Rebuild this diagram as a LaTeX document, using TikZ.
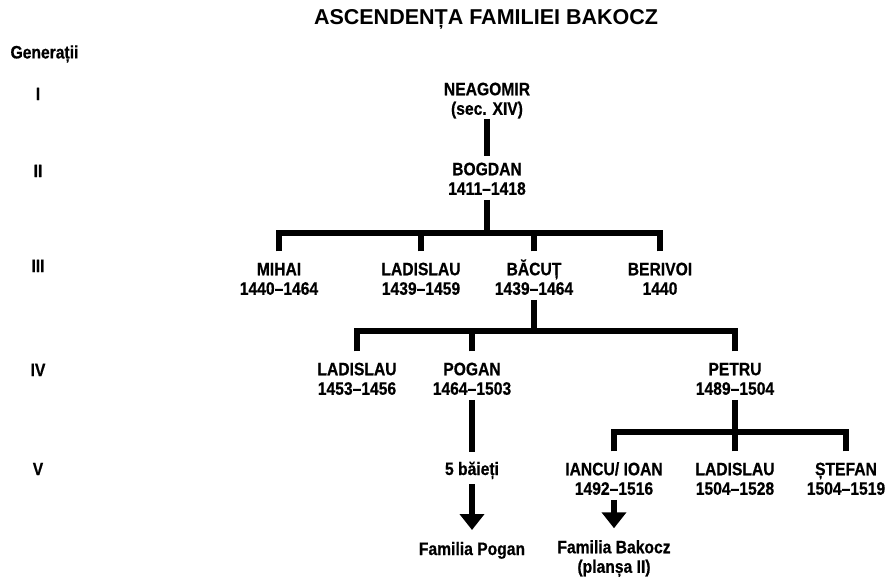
\documentclass[tikz,border=0pt]{standalone}
\usepackage{fontspec}
\setmainfont{Liberation Sans}
\newfontfamily\narrowsans[FakeStretch=0.87,BoldFeatures={FakeBold=0.6}]{Liberation Sans}
\usetikzlibrary{arrows.meta,positioning}

\begin{document}
\begin{tikzpicture}
  [x=1pt,y=-1pt,on grid,
   title/.style={font=\fontsize{21.5}{24}\selectfont\bfseries},
   gen/.style={font=\narrowsans\fontsize{18}{19.5}\selectfont\bfseries},
   person/.style={font=\narrowsans\fontsize{18}{19.5}\selectfont\bfseries,
                  align=center,inner sep=0pt,outer sep=1pt,
                  text height=37.5pt,text depth=4pt},
   single/.style={person,text height=18pt},
   link/.style={line width=5.5pt},
   drop/.style={link,shorten <=5pt},
   descent/.style={link,-{Triangle[width=24pt,length=16pt]},shorten >=6pt}]

  \useasboundingbox (0,0) rectangle (887,578);

  \node[title] (title) at (486,19) {ASCENDENȚA FAMILIEI BAKOCZ};
  \node[gen,anchor=west] (generatii) at (7,54) {Generații};
  \node[gen] (genI)   at (38,94)  {I};
  \node[gen] (genII)  at (38,171) {II};
  \node[gen] (genIII) at (38,266) {III};
  \node[gen] (genIV)  at (38,370) {IV};
  \node[gen] (genV)   at (38,469) {V};

  \node[person] (neagomir)    at (487,98)                         {NEAGOMIR\\(sec. XIV)};
  \node[person] (bogdan)      [below=80pt of neagomir]            {BOGDAN\\1411–1418};

  \node[person] (mihai)       [below left=100pt and 208pt of bogdan] {MIHAI\\1440–1464};
  \node[person] (ladislauIII) [right=142pt of mihai]              {LADISLAU\\1439–1459};
  \node[person] (bacut)       [right=113pt of ladislauIII]        {BĂCUȚ\\1439–1464};
  \node[person] (berivoi)     [right=126pt of bacut]              {BERIVOI\\1440};

  \node[person] (ladislauIV)  [below left=100pt and 177pt of bacut] {LADISLAU\\1453–1456};
  \node[person] (pogan)       [right=115pt of ladislauIV]         {POGAN\\1464–1503};
  \node[person] (petru)       [right=263pt of pogan]              {PETRU\\1489–1504};

  \node[single] (baieti)      [below=90pt of pogan]               {5 băieți};
  \node[single] (famPogan)    [below=80pt of baieti]              {Familia Pogan};

  \node[person] (iancu)       [below left=100pt and 121pt of petru] {IANCU/ IOAN\\1492–1516};
  \node[person] (ladislauV)   [right=121pt of iancu]              {LADISLAU\\1504–1528};
  \node[person] (stefan)      [right=111pt of ladislauV]          {ȘTEFAN\\1504–1519};
  \node[person] (famBakocz)   [below=78pt of iancu]               {Familia Bakocz\\(planșa II)};

  \coordinate (forkIII) at (487,233);
  \coordinate (forkIV)  at (534,331);
  \coordinate (forkV)   at (735,432);

  \draw[link,shorten <=-1pt] (neagomir) -- (bogdan);

  \draw[link] (bogdan) -- (forkIII);
  \draw[drop] (mihai)       |- (forkIII);
  \draw[drop] (ladislauIII) |- (forkIII);
  \draw[drop] (bacut)       |- (forkIII);
  \draw[drop] (berivoi)     |- (forkIII);

  \draw[link] (bacut) -- (forkIV);
  \draw[drop] (ladislauIV)  |- (forkIV);
  \draw[drop] (pogan)       |- (forkIV);
  \draw[drop] (petru)       |- (forkIV);

  \draw[link] (petru) -- (forkV);
  \draw[drop] (iancu)       |- (forkV);
  \draw[drop] (ladislauV)   |- (forkV);
  \draw[drop] (stefan)      |- (forkV);

  \draw[link,shorten >=4pt] (pogan) -- (baieti);
  \draw[descent,shorten <=4pt] (baieti) -- (famPogan);
  \draw[descent] (iancu) -- (famBakocz);
\end{tikzpicture}
\end{document}
